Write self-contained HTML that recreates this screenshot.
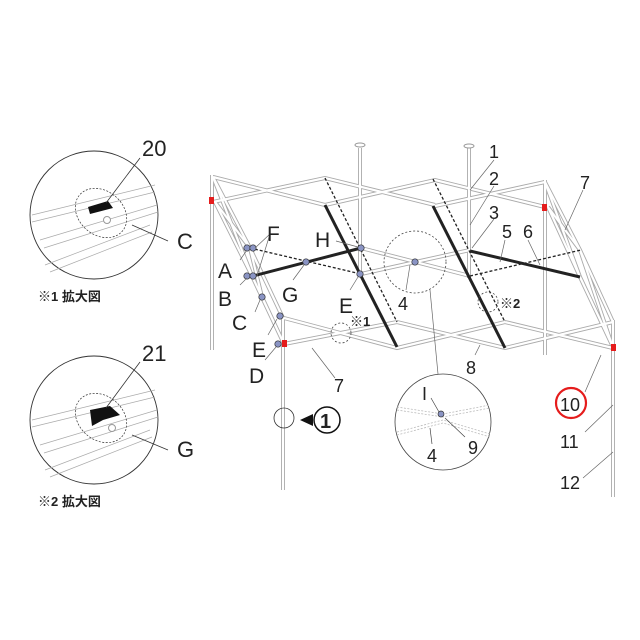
<!DOCTYPE html>
<html><head><meta charset="utf-8"><style>
html,body{margin:0;padding:0;background:#fff;}
svg{display:block}
text{font-family:"Liberation Sans","Noto Sans CJK JP",sans-serif;fill:#222;}
</style></head><body>
<svg width="640" height="640" viewBox="0 0 640 640" xmlns="http://www.w3.org/2000/svg">
<defs>
<g id="frame" fill="none">
  <path d="M212,175 V350 M545,180 V355 M283,317 V490 M613,320 V497"/>
  <path d="M360,148 V277 M469,148 V278"/>
  <path d="M213,177 L325,205 M213,202 L325,178 L435,205 M325,205 L435,180 L545,207 M435,206 L545,182"/>
  <path d="M284,318 L397,348 L505,322 L613,348 M284,344 L397,322 L505,348 L613,322"/>
  <path d="M213,177 L250,248 L283,318 M215,202 L252,276 L284,344 M213,177 L252,276 M215,202 L250,248 L262,297 L284,344"/>
  <path d="M545,182 L580,250 L613,322 M548,207 L580,277 L612,345 M545,182 L580,277 M548,207 L580,250 L612,345"/>
  <path d="M361,248 L470,276 M361,274 L470,250"/>
</g>
</defs>
<use href="#frame" stroke="#aaa" stroke-width="4"/>
<use href="#frame" stroke="#fff" stroke-width="2.2"/>
<ellipse cx="360" cy="145" rx="5" ry="2" fill="#fff" stroke="#999"/>
<ellipse cx="469" cy="146" rx="5" ry="2" fill="#fff" stroke="#999"/>
<g fill="#e51c1c">
<rect x="209" y="197" width="5" height="7"/><rect x="542" y="204" width="5" height="7"/>
<rect x="282" y="340" width="5" height="7"/><rect x="611" y="344" width="5" height="7"/>
</g>
<g stroke="#222" stroke-width="1.3" stroke-dasharray="3,2" fill="none">
<path d="M250,248 L361,274"/><path d="M470,276 L581,250"/>
<path d="M325,178 L397,322"/><path d="M433,179 L505,322"/>
</g>
<g stroke="#222" stroke-width="3" fill="none">
<path d="M325,205 L397,347"/><path d="M433,206 L505,348"/>
<path d="M253,276 L361,248"/><path d="M470,251 L580,277"/>
</g>
<g fill="none" stroke="#444" stroke-width="0.8" stroke-dasharray="2,2">
<circle cx="415" cy="262" r="31"/><circle cx="341" cy="333" r="10"/><circle cx="488" cy="302" r="10"/>
</g>
<g fill="#8a94c4" stroke="#333" stroke-width="0.7">
<circle cx="247" cy="248" r="3.2"/><circle cx="253" cy="248" r="3.2"/>
<circle cx="247" cy="276" r="3.2"/><circle cx="253" cy="276" r="3.2"/>
<circle cx="306" cy="262" r="3.2"/><circle cx="361" cy="248" r="3.2"/>
<circle cx="360" cy="274" r="3.2"/><circle cx="262" cy="297" r="3.2"/>
<circle cx="280" cy="316" r="3.2"/><circle cx="278" cy="344" r="3.2"/>
<circle cx="415" cy="262" r="3.2"/>
</g>
<g stroke="#666" stroke-width="0.7" fill="none">
<path d="M270,234 L255,248 M270,234 L257,276 M240,260 L247,250 M240,285 L247,278 M293,280 L304,265 M336,241 L358,247 M350,290 L358,277 M255,312 L260,300 M268,335 L277,319 M265,360 L276,347 M406,290 L410,265"/>
<path d="M494,160 L470,190 M494,186 L470,225 M494,219 L472,248 M505,240 L500,262 M528,240 L540,265 M583,190 L565,230"/>
<path d="M312,348 L335,378 M475,355 L480,345 M430,290 L438,374"/>
<path d="M601,355 L585,392 M613,405 L585,432 M613,452 L583,478"/>
</g>
<g font-size="21">
<text x="267" y="241">F</text><text x="218" y="278">A</text><text x="218" y="306">B</text>
<text x="282" y="302">G</text><text x="315" y="247">H</text><text x="339" y="313">E</text>
<text x="232" y="330">C</text><text x="252" y="357">E</text><text x="249" y="383">D</text>
</g>
<g font-size="18">
<text x="398" y="310">4</text>
<text x="489" y="158">1</text><text x="489" y="185">2</text>
<text x="489" y="219">3</text><text x="502" y="238">5</text>
<text x="523" y="238">6</text><text x="580" y="189">7</text>
<text x="334" y="392">7</text><text x="466" y="374">8</text>
<text x="560" y="411">10</text><text x="560" y="448">11</text>
<text x="560" y="489">12</text>
</g>
<text x="350" y="326" font-size="13" font-weight="bold">※1</text>
<text x="500" y="308" font-size="13" font-weight="bold">※2</text>
<circle cx="571" cy="403" r="15" fill="none" stroke="#e51c1c" stroke-width="2.2"/>
<circle cx="443" cy="422" r="48" fill="#fff" stroke="#444" stroke-width="0.8"/>
<g stroke="#bbb" stroke-width="0.8" stroke-dasharray="2,1.5" fill="none">
<path d="M397,407 L443,414 L490,405 M397,432 L443,420 L490,434 M397,410 L443,417 L490,408 M397,435 L443,423 L490,437"/>
</g>
<circle cx="441" cy="414" r="3" fill="#8a94c4" stroke="#333" stroke-width="0.7"/>
<path d="M431,398 L439,412 M445,418 L465,437 M432,444 L430,428" stroke="#444" stroke-width="0.7"/>
<text x="422" y="400" font-size="18">I</text>
<text x="468" y="454" font-size="18">9</text>
<text x="427" y="462" font-size="18">4</text>
<circle cx="284" cy="418" r="10" fill="none" stroke="#333" stroke-width="0.8"/>
<path d="M300,420 L313,414 L313,426 Z" fill="#111"/>
<circle cx="327" cy="420" r="13" fill="#fff" stroke="#111" stroke-width="1.5"/>
<text x="320" y="428" font-size="20" font-weight="bold">1</text>
<g stroke="#333" stroke-width="0.9" fill="#fff">
<circle cx="94" cy="215" r="64"/><circle cx="94" cy="420" r="64"/>
</g>
<g stroke="#aaa" stroke-width="0.7" fill="none">
<path d="M32,215 L155,185 M32,222 L155,192 M40,240 L157,205 M44,248 L158,212 M45,265 L150,225 M50,272 L152,232"/>
<path d="M32,420 L155,390 M32,427 L155,397 M40,445 L157,410 M44,453 L158,417 M45,470 L150,430 M50,477 L152,437"/>
</g>
<g stroke="#333" stroke-width="0.7" stroke-dasharray="2,1.5" fill="none">
<ellipse cx="101" cy="213" rx="22" ry="28" transform="rotate(-50 101 213)"/>
<ellipse cx="101" cy="418" rx="22" ry="28" transform="rotate(-50 101 418)"/>
</g>
<path d="M88,207 L108,201 L113,208 L90,214 Z" fill="#111"/>
<path d="M90,410 L110,406 L120,415 L103,420 L92,426 Z" fill="#111"/>
<circle cx="107" cy="220" r="3.5" fill="#fff" stroke="#999"/>
<circle cx="112" cy="428" r="3.5" fill="#fff" stroke="#999"/>
<path d="M140,158 L106,203 M132,225 L168,241 M140,362 L106,408 M132,435 L168,450" stroke="#333" stroke-width="0.8"/>
<g font-size="22">
<text x="142" y="156">20</text><text x="177" y="249">C</text>
<text x="142" y="361">21</text><text x="177" y="457">G</text>
</g>
<text x="38" y="301" font-size="13" font-weight="bold">※1 拡大図</text>
<text x="38" y="506" font-size="13" font-weight="bold">※2 拡大図</text>
</svg>
</body></html>
